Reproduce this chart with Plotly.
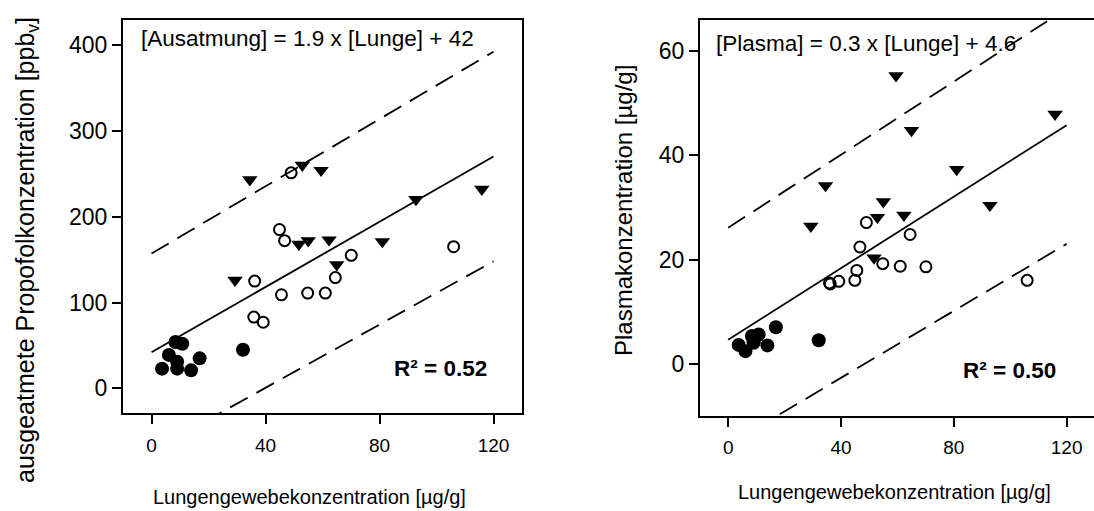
import plotly.graph_objects as go

W, H = 1094, 511
FONT = "Liberation Sans, Arial, sans-serif"

# ---- data ----
lung_filled = [3.7, 6.1, 8.4, 9.0, 9.0, 10.8, 13.9, 16.9, 32.1]
exhaled_filled = [23, 39, 54, 31, 23, 52, 21, 35, 45]
plasma_filled = [3.6, 2.4, 5.3, 4.0, 4.2, 5.6, 3.5, 7.0, 4.5]

lung_open = [35.9, 36.2, 39.2, 44.9, 45.6, 46.7, 49.0, 54.8, 61.0, 64.5, 70.1, 106.0]
exhaled_open = [83, 125, 77, 185, 109, 172, 251, 111, 111, 129, 155, 165]
plasma_open = [15.5, 15.3, 15.8, 16.0, 17.9, 22.4, 27.1, 19.2, 18.7, 24.8, 18.6, 16.0]

lung_tri = [29.3, 34.5, 51.7, 52.9, 55.0, 59.5, 62.3, 65.0, 81.0, 92.8, 115.9]
exhaled_tri = [126, 243, 168, 260, 172, 254, 173, 144, 171, 220, 232]
plasma_tri = [26.4, 34.2, 20.3, 28.1, 31.1, 55.3, 28.5, 44.8, 37.3, 30.4, 47.9]

line_x = [0, 120]
exhaled_fit = [42, 270]
exhaled_upper = [157, 392]
exhaled_lower = [-73, 148]
plasma_fit = [4.6, 45.8]
plasma_upper = [26.1, 68.2]
plasma_lower = [-15.6, 23.0]

x_ticks = [0, 40, 80, 120]
exhaled_ticks = [0, 100, 200, 300, 400]
plasma_ticks = [0, 20, 40, 60]

eq_left = "[Ausatmung] = 1.9 x [Lunge] + 42"
eq_right = "[Plasma] = 0.3 x [Lunge] + 4.6"
r2_left = "R² = 0.52"
r2_right = "R² = 0.50"
xlabel = "Lungengewebekonzentration [µg/g]"
ylabel_left = "ausgeatmete Propofolkonzentration [ppb<sub>v</sub>]"
ylabel_right = "Plasmakonzentration [µg/g]"

fig = go.Figure()


def add_panel(xa, ya, fit, up, lo, yf, yo, yt):
    for ys, dash in ((up, "20px,10px"), (lo, "20px,10px"), (fit, "solid")):
        fig.add_trace(go.Scatter(x=line_x, y=ys, mode="lines", xaxis=xa, yaxis=ya,
                                 line=dict(color="black", width=1.8, dash=dash),
                                 showlegend=False, hoverinfo="skip"))
    fig.add_trace(go.Scatter(x=lung_filled, y=yf, mode="markers", xaxis=xa, yaxis=ya,
                             marker=dict(symbol="circle", size=14, color="black",
                                         line=dict(width=0)), showlegend=False))
    fig.add_trace(go.Scatter(x=lung_open, y=yo, mode="markers", xaxis=xa, yaxis=ya,
                             marker=dict(symbol="circle-open", size=11, color="black",
                                         line=dict(width=2, color="black")), showlegend=False))
    fig.add_trace(go.Scatter(x=lung_tri, y=yt, mode="markers", xaxis=xa, yaxis=ya,
                             marker=dict(symbol="triangle-down", size=13.5, color="black",
                                         line=dict(width=0)), showlegend=False))


add_panel("x", "y", exhaled_fit, exhaled_upper, exhaled_lower,
          exhaled_filled, exhaled_open, exhaled_tri)
add_panel("x2", "y2", plasma_fit, plasma_upper, plasma_lower,
          plasma_filled, plasma_open, plasma_tri)

axis_common = dict(showline=True, linecolor="black", linewidth=2, ticks="outside",
                   ticklen=9, tickwidth=2, tickcolor="black", showgrid=False,
                   zeroline=False)

fig.update_layout(
    width=W, height=H,
    margin=dict(l=0, r=0, t=0, b=0),
    paper_bgcolor="white", plot_bgcolor="white",
    font=dict(family=FONT, color="black"),
    xaxis=dict(domain=[123 / W, 522 / W], range=[-10, 130], tickvals=x_ticks,
               mirror=True, anchor="y", tickfont=dict(size=19), ticklabelstandoff=5,
               **axis_common),
    yaxis=dict(domain=[1 - 413.3 / H, 1 - 20 / H], range=[-29, 429], tickvals=exhaled_ticks,
               mirror=True, anchor="x", tickfont=dict(size=23), **axis_common),
    xaxis2=dict(domain=[700 / W, 1.0], range=[-10, 129.7], tickvals=x_ticks,
                mirror=True, anchor="y2", tickfont=dict(size=19), ticklabelstandoff=4,
                **axis_common),
    yaxis2=dict(domain=[1 - 415.7 / H, 1 - 20 / H], range=[-10, 66], tickvals=plasma_ticks,
                mirror=False, anchor="x2", tickfont=dict(size=23), **axis_common),
)


def ann(text, px, py, size, xanchor="center", angle=0, bold=False):
    fig.add_annotation(text=f"<b>{text}</b>" if bold else text,
                       x=px / W, y=1 - py / H, xref="paper", yref="paper",
                       xanchor=xanchor, yanchor="middle", showarrow=False,
                       textangle=angle, font=dict(family=FONT, size=size, color="black"))


ann(eq_left, 139.3, 38, 22.5, xanchor="left")
ann(eq_right, 714, 43, 22.5, xanchor="left")
ann(r2_left, 489.3, 368.5, 22.5, xanchor="right", bold=True)
ann(r2_right, 1058.3, 370, 22.5, xanchor="right", bold=True)
ann(ylabel_left, 27, 250, 25, angle=-90)
ann(ylabel_right, 623, 211, 24, angle=-90)
ann(xlabel, 309, 497, 20)
ann(xlabel, 894.5, 492, 20)

fig.write_html("out.html")
